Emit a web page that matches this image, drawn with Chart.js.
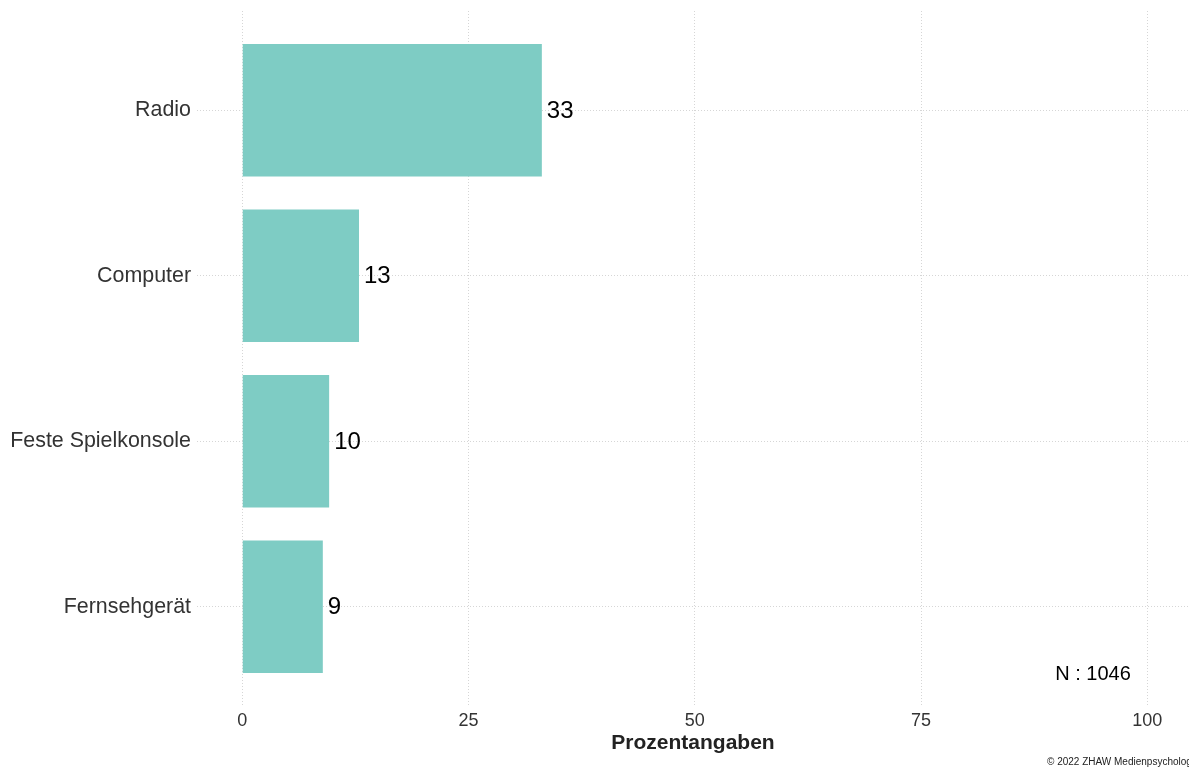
<!DOCTYPE html>
<html>
<head>
<meta charset="utf-8">
<script src="https://cdn.jsdelivr.net/npm/chart.js@4"></script>
<style>
  html, body { margin: 0; padding: 0; background: #fff; }
  #wrap { width: 1189px; height: 767px; position: relative; }
</style>
</head>
<body>
<div id="wrap"><canvas id="deviceChart"></canvas></div>
<script>
const categories = ['Radio', 'Computer', 'Feste Spielkonsole', 'Fernsehgerät'];
const values = [33.1, 12.9, 9.6, 8.9];
const xTicks = [0, 25, 50, 75, 100];
const sampleNote = 'N : 1046';
const caption = '© 2022 ZHAW Medienpsychologie';

const FONT = "'Liberation Sans', Arial, sans-serif";

// value labels, N note and caption
const labelPlugin = {
    id: 'labelPlugin',
    afterDatasetsDraw(chart) {
        const ctx = chart.ctx;
        const meta = chart.getDatasetMeta(0);
        ctx.save();
        ctx.fillStyle = '#000';
        ctx.font = '24px ' + FONT;
        ctx.textAlign = 'left';
        ctx.textBaseline = 'middle';
        meta.data.forEach((bar, i) => {
            ctx.fillText(Math.round(values[i]), bar.x + 5, bar.y + 1);
        });

        const xs = chart.scales.x;
        const ys = chart.scales.y;
        ctx.font = '20px ' + FONT;
        ctx.textAlign = 'center';
        ctx.fillText(sampleNote, xs.getPixelForValue(94), ys.getPixelForValue(4.41));

        ctx.font = '10px ' + FONT;
        ctx.textAlign = 'left';
        ctx.fillStyle = '#222';
        ctx.fillText(caption, 1047, 762);
        ctx.restore();
    }
};

const ctx = document.getElementById('deviceChart').getContext('2d');
const deviceChart = new Chart(ctx, {
    type: 'bar',
    data: {
        datasets: [{
            data: values.map((v, i) => ({ x: v, y: i + 1 })),
            backgroundColor: '#7ECCC4',
            borderWidth: 0,
            barPercentage: 0.8,
            categoryPercentage: 1
        }]
    },
    options: {
        indexAxis: 'y',
        responsive: true,
        maintainAspectRatio: false,
        animation: false,
        layout: { padding: { top: 11, right: 0, bottom: 0, left: 0 } },
        plugins: {
            legend: { display: false },
            tooltip: { enabled: false }
        },
        scales: {
            x: {
                type: 'linear',
                min: -5,
                max: 104.6,
                afterBuildTicks: axis => { axis.ticks = xTicks.map(v => ({ value: v })); },
                afterFit: axis => { axis.height = 61; },
                border: { display: false, dash: [1, 2] },
                grid: { color: '#d6d6d6', lineWidth: 1, drawTicks: false },
                ticks: { color: '#333', font: { family: FONT, size: 18 }, padding: 4, maxRotation: 0 },
                title: {
                    display: true,
                    text: 'Prozentangaben',
                    color: '#222',
                    font: { family: FONT, size: 21, weight: 'bold' },
                    padding: { top: 0, bottom: 11 }
                }
            },
            y: {
                type: 'linear',
                reverse: true,
                offset: false,
                min: 0.4,
                max: 4.6,
                afterBuildTicks: axis => { axis.ticks = categories.map((c, i) => ({ value: i + 1 })); },
                afterFit: axis => {
                    axis.width = 197;
                    axis.paddingTop = 0;
                    axis.paddingBottom = 0;
                },
                border: { display: false, dash: [1, 2] },
                grid: { color: '#d6d6d6', lineWidth: 1, drawTicks: false, offset: false },
                ticks: {
                    color: '#333',
                    font: { family: FONT, size: 21.4 },
                    padding: 6,
                    callback: v => categories[v - 1]
                }
            }
        }
    },
    plugins: [labelPlugin]
});
</script>
</body>
</html>
